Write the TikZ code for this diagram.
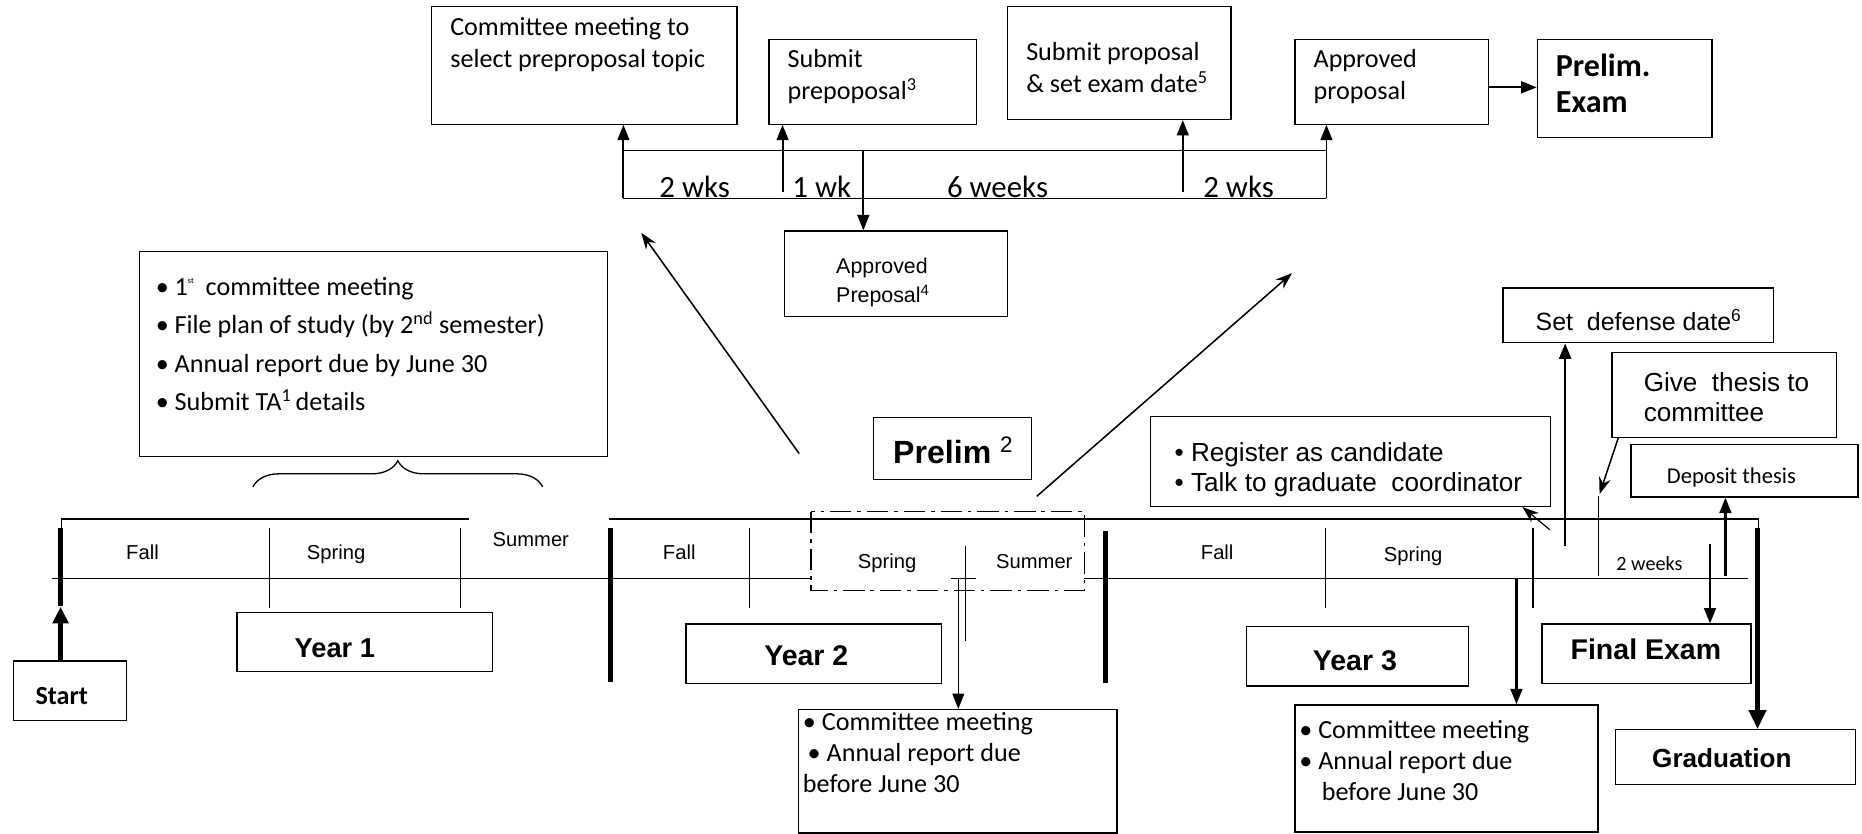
\documentclass[tikz,border=0pt]{standalone}
\usepackage{fontspec}
\setmainfont{Carlito}
\newfontfamily\arialfont{Liberation Sans}
\usetikzlibrary{arrows.meta,decorations.pathreplacing}

\tikzset{
	frame/.style={draw, line width=1.1pt, inner sep=0pt, anchor=north west},
	cal/.style={font=\fontsize{22}{27}\selectfont, inner sep=0pt, align=left, anchor=base west},
	ari/.style={font=\arialfont\fontsize{22}{25}\selectfont, inner sep=0pt, align=left, anchor=base west},
	sem/.style={font=\arialfont\fontsize{17}{20}\selectfont, inner sep=0pt, anchor=base},
	yr/.style={font=\arialfont\bfseries\fontsize{23}{27}\selectfont, inner sep=0pt, anchor=base},
	wk/.style={font=\fontsize{26}{30}\selectfont, inner sep=0pt, anchor=base},
	bar/.style={line width=4pt},
	tick/.style={line width=1.1pt},
	arr/.style={line width=1.6pt, -{Triangle[length=13pt,width=10pt]}},
	darr/.style={line width=1.3pt, -{Stealth[length=14pt,width=10pt]}}
}

\begin{document}
\begin{tikzpicture}[x=1pt, y=-1pt]
			\fill[white](0, 0) rectangle (1568, 702);
			\useasboundingbox(0, 0) rectangle (1568, 702);

			%%draw the prelim boxes on top
			\node[frame, minimum width=257pt, minimum height=99pt] (cmt) at (363, 5){};
				\node[cal] at (379, 57){Committee meeting to\\select preproposal topic};
			\node[frame, minimum width=175pt, minimum height=71pt] (subpre) at (647, 33){};
				\node[cal] at (663, 84){Submit\\prepoposal\textsuperscript{3}};
			\node[frame, minimum width=188pt, minimum height=95pt] (subprop) at (848, 5){};
				\node[cal] at (864, 78){Submit proposal\\\& set exam date\textsuperscript{5}};
			\node[frame, minimum width=163pt, minimum height=71pt] (apprprop) at (1090, 33){};
				\node[cal] at (1106, 84){Approved\\proposal};
			\node[frame, minimum width=147pt, minimum height=82pt] (pexam) at (1294, 33){};
				\node[cal, font=\bfseries\fontsize{27}{31}\selectfont] at (1310, 95){Prelim.\\Exam};
			\draw[arr]([yshift=-4.5pt]apprprop.east) to ([yshift=-4.5pt]apprprop.east -| pexam.west);

			\node[frame, minimum width=188pt, minimum height=72pt] (apprpre) at (660, 194){};
				\node[ari, font=\arialfont\fontsize{18}{25}\selectfont] at (704, 255){Approved\\Preposal\textsuperscript{4}};

			%%the weeks between them
			\draw[tick](525, 127) to (1117, 127);
			\draw[tick](525, 167) to (1117, 167);
			\coordinate (w0) at (525, 167);
			\coordinate (w1) at (659, 162);
			\coordinate (w2) at (727, 127);
			\coordinate (w3) at (996, 162);
			\coordinate (w4) at (1117, 167);
			\draw[arr](w0) to (w0 |- cmt.south);
			\draw[arr](w1) to (w1 |- subpre.south);
			\draw[arr](w2) to (w2 |- apprpre.north);
			\draw[arr](w3) to (w3 |- subprop.south);
			\draw[arr](w4) to (w4 |- apprprop.south);
				\node[wk] at (585, 166){2 wks};
				\node[wk] at (692, 166){1 wk};
				\node[wk] at (840, 166){6 weeks};
				\node[wk] at (1043, 166){2 wks};

			%%prelim and its two arrows
			\node[frame, minimum width=133pt, minimum height=52pt] (prelim) at (735, 351){};
				\node[yr, font=\arialfont\bfseries\fontsize{27}{30}\selectfont, anchor=base west] at (752, 390){Prelim \textsuperscript{\mdseries 2}};
			\coordinate (p1) at (673, 382);
			\coordinate (p2) at (540, 196);
			\coordinate (p3) at (873, 418);
			\coordinate (p4) at (1088, 230);
			\draw[darr](p1) to (p2);
			\draw[darr](p3) to (p4);

			%%year 1 list
			\node[frame, minimum width=394pt, minimum height=173pt] (yrlist) at (117, 211){};
				\node[cal, font=\fontsize{22}{32.5}\selectfont] at (131, 346){\textbullet\ 1\raisebox{10pt}{\fontsize{7}{7}\selectfont st}\ \ committee meeting\\\textbullet\ File plan of study (by 2\textsuperscript{nd} semester)\\\textbullet\ Annual report due by June 30\\\textbullet\ Submit TA\textsuperscript{1}\,details};
			\draw[tick, decorate, decoration={brace, amplitude=22pt}](213, 410) to (457, 410);

			%%draw the time line
			\draw[tick](44, 487) to (1472, 487);
			\draw[tick, fill=white, dash pattern=on 18pt off 5pt on 3pt off 5pt](683, 431) rectangle (913, 497);
			\draw[tick](52, 445) to (52, 437) to (395, 437);
			\draw[tick](513, 437) to (1481, 437) to (1481, 445);
			\foreach \x in {227, 388, 631, 1116, 1291}
				\draw[tick](\x, 445) to (\x, 512);
			\draw[tick](813, 460) to (813, 540);
			\draw[tick](801, 487) to (822, 487);
			\draw[bar](51, 445) to (51, 510);
			\draw[bar](514, 445) to (514, 574);
			\draw[bar](931, 447) to (931, 575);

				\node[sem] at (120, 471){Fall};
				\node[sem] at (283, 471){Spring};
				\node[sem] at (447, 460){Summer};
				\node[sem] at (572, 471){Fall};
				\node[sem] at (747, 479){Spring};
				\node[sem] at (871, 479){Summer};
				\node[sem] at (1025, 471){Fall};
				\node[sem] at (1190, 473){Spring};
				\node[cal, font=\fontsize{17}{20}\selectfont, anchor=base] at (1389, 480){2 weeks};

			%%start and the years
			\node[frame, minimum width=95pt, minimum height=50pt] (start) at (11, 556){};
				\node[cal, font=\bfseries\fontsize{22}{26}\selectfont, anchor=base] at (52, 593){Start};
			\coordinate (s0) at (51, 511);
			\draw[line width=3.5pt, -{Triangle[length=14pt,width=13pt]}](s0 |- start.north) to (s0);
			\node[frame, minimum width=215pt, minimum height=50pt] (yr1) at (199, 515){};
				\node[yr] at (282, 554){Year 1};
			\node[frame, minimum width=215pt, minimum height=50pt] (yr2) at (577, 525){};
				\node[yr, font=\arialfont\bfseries\fontsize{24}{27}\selectfont] at (679, 560){Year 2};
			\node[frame, minimum width=187pt, minimum height=50pt] (yr3) at (1049, 527){};
				\node[yr, font=\arialfont\bfseries\fontsize{24}{27}\selectfont] at (1141, 565){Year 3};
			\node[frame, minimum width=176pt, minimum height=50pt] (final) at (1298, 525){};
				\node[yr, font=\arialfont\bfseries\fontsize{24}{27}\selectfont] at (1386, 555){Final Exam};
			\node[frame, minimum width=202pt, minimum height=46pt] (grad) at (1360, 614){};
				\node[yr, font=\arialfont\bfseries\fontsize{22}{27}\selectfont] at (1450, 646){Graduation};

			%%committee meetings
			\node[frame, minimum width=268pt, minimum height=104pt] (cmtwo) at (672, 597){};
				\node[cal, font=\fontsize{22}{26}\selectfont] at (676, 667){\textbullet\ Committee meeting\\\hspace*{4pt}\textbullet\ Annual report due\\before June 30};
			\node[frame, minimum width=255pt, minimum height=107pt] (cmthree) at (1090, 593){};
				\node[cal, font=\fontsize{22}{26}\selectfont] at (1094, 674){\textbullet\ Committee meeting\\\textbullet\ Annual report due\\\hspace*{19pt}before June 30};
			\coordinate (c2) at (807, 487);
			\coordinate (c3) at (1277, 487);
			\draw[arr, line width=1.2pt](c2) to (c2 |- cmtwo.north);
			\draw[arr, line width=2pt](c3) to (c3 |- cmthree.north);

			%%the third year boxes
			\node[frame, minimum width=337pt, minimum height=76pt] (reg) at (968, 350){};
				\node[ari] at (989, 414){\textbullet\ Register as candidate\\\textbullet\ Talk to graduate\ \ coordinator};
			\node[frame, minimum width=228pt, minimum height=46pt] (setdef) at (1265, 242){};
				\node[ari, font=\arialfont\fontsize{21}{25}\selectfont] at (1293, 278){Set\ \ defense date\textsuperscript{6}};
			\node[frame, minimum width=189pt, minimum height=72pt] (give) at (1357, 296){};
				\node[ari] at (1384, 355){Give\ \ thesis to\\committee};
			\node[frame, minimum width=191pt, minimum height=44pt] (dep) at (1373, 374){};
				\node[cal, font=\fontsize{19}{22}\selectfont, anchor=base] at (1458, 407){Deposit thesis};

			\coordinate (r0) at (1305, 446);
			\coordinate (r1) at (1282, 427);
			\draw[darr, line width=1pt](r0) to (r1);
			\coordinate (d0) at (1318, 460);
			\draw[arr, line width=2pt](d0) to (d0 |- setdef.south);
			\coordinate (g0) at (1363, 368);
			\coordinate (g1) at (1347, 416);
			\draw[darr](g0) to (g1);
			\draw[tick](1346, 418) to (1346, 485);
			\coordinate (e0) at (1440, 458);
			\draw[arr, line width=2pt](e0) to (e0 |- final.north);
			\coordinate (f0) at (1453, 485);
			\draw[arr, line width=2pt](f0) to (f0 |- dep.south);
			\coordinate (t0) at (1480, 445);
			\draw[line width=4pt, -{Triangle[length=16pt,width=14pt]}](t0) to (t0 |- grad.north);
\end{tikzpicture}
\end{document}
